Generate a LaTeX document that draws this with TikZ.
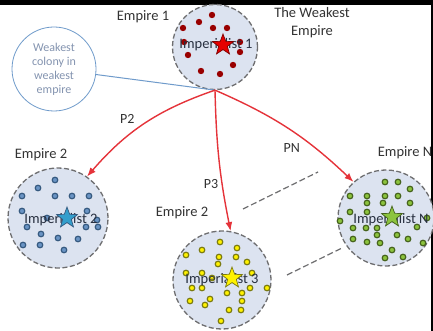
\documentclass[tikz,border=0pt]{standalone}
\usepackage{fontspec}
\setmainfont{Carlito}
\usetikzlibrary{shapes.geometric}
\usetikzlibrary{arrows.meta}

\definecolor{empfill}{HTML}{DCE3F0}
\definecolor{empdraw}{HTML}{6E6E70}
\definecolor{arrowred}{HTML}{E5333A}
\definecolor{labelgray}{HTML}{333333}
\definecolor{imptext}{HTML}{283040}
\definecolor{weakblue}{HTML}{6F9BCB}
\definecolor{weaktext}{HTML}{8494B0}
\definecolor{bluering}{HTML}{35597F}
\definecolor{bluedot}{HTML}{6A94C4}
\definecolor{greenring}{HTML}{45621C}
\definecolor{greendot}{HTML}{8CC43E}
\definecolor{yellowring}{HTML}{7A7A10}

\tikzset{
  empire/.style={circle, draw=empdraw, dash pattern=on 5pt off 2.5pt, line width=1.3pt,
    fill=empfill, inner sep=0pt},
  emplabel/.style={text=labelgray, font=\fontsize{14.5}{18}\selectfont, align=center},
  imptag/.style={text=imptext, font=\fontsize{14.5}{15}\selectfont},
  leader/.style={star, star points=5, star point ratio=2.4, minimum size=22pt,
    inner sep=0pt, line width=0.7pt},
  colony/.style={line width=1.2pt},
  plabel/.style={text=labelgray, font=\fontsize{14}{15}\selectfont},
  move/.style={-{Latex[length=9pt,width=7pt]}, arrowred, line width=1.4pt},
}

\begin{document}
\begin{tikzpicture}[x=1pt, y=1pt]
  \useasboundingbox (0,0) rectangle (433,-331);
  \fill[white] (0,0) rectangle (433,-331);
  \fill[black] (0,0) rectangle (433,-5);
  \fill[black] (431,0) rectangle (433,-331);

  % the four empires
  \node[empire, minimum size=85pt] (e1) at (215,-47) {};
  \node[empire, minimum size=100pt] (e2) at (58,-218) {};
  \node[empire, minimum size=98pt] (e3) at (222,-280) {};
  \node[empire, minimum size=96pt] (eN) at (386,-218) {};

  % colonies
  \foreach \p in {(212,-15),(199,-22),(213,-28),(227,-28),(183,-28),(184,-42),
      (240,-42),(188,-55),(240,-52),(233,-65),(201,-71),(220,-74)}
    \fill[red!60!black] \p circle (3.2);
  \foreach \p in {(55,-180),(38,-188),(22,-196),(55,-196),(72,-196),(89,-196),
      (22,-211),(87,-211),(47,-218),(97,-220),(27,-227),(86,-227),(98,-227),
      (41,-234),(58,-238),(78,-239),(23,-245),(40,-245),(64,-250)}
    \filldraw[colony, draw=bluering, fill=bluedot] \p circle (2.8);
  \foreach \p in {(220,-242),(202,-250),(237,-248),(186,-255),(219,-257),(236,-257),
      (247,-262),(218,-264),(202,-273),(186,-273),(252,-273),(212,-278),(192,-288),
      (202,-288),(250,-288),(267,-288),(227,-293),(242,-293),(190,-301),(210,-299),
      (205,-305),(242,-301),(229,-310),(241,-310),(221,-321)}
    \filldraw[colony, draw=yellowring, fill=yellow] \p circle (2.8);
  \foreach \p in {(385,-182),(398,-182),(410,-189),(350,-196),(367,-196),(385,-196),
      (398,-196),(367,-203),(383,-203),(410,-203),(350,-212),(367,-212),(340,-221),
      (427,-218),(353,-228),(366,-228),(377,-228),(417,-227),(353,-239),(377,-235),
      (397,-235),(367,-242),(380,-243),(408,-239),(423,-243),(392,-250),(403,-257),
      (385,-258)}
    \filldraw[colony, draw=greenring, fill=greendot] \p circle (2.8);

  % imperialists
  \node[imptag] (t1) at (216,-45) {Imperialist 1};
  \node[imptag] (t2) at (61,-220) {Imperialist 2};
  \node[imptag] (t3) at (222,-280) {Imperialist 3};
  \node[imptag] (tN) at (391,-220) {Imperialist N};
  \node[leader, draw=red!50!black, fill=red!90!black] (s1) at (223,-45) {};
  \node[leader, draw=bluering, fill=blue!30!cyan!60!gray] (s2) at (67,-218) {};
  \node[leader, draw=yellowring, fill=yellow] (s3) at (232,-278) {};
  \node[leader, draw=greenring, fill=greendot] (sN) at (392,-217) {};

  % labels
  \node[emplabel] (l1) at (143,-17) {Empire 1};
  \node[emplabel] (lw) at (312,-23) {The Weakest\\Empire};
  \node[emplabel] (l2) at (41,-155) {Empire 2};
  \node[emplabel] (l3) at (182,-213) {Empire 2};
  \node[emplabel] (lN) at (405,-153) {Empire N};

  % weakest colony
  \node[circle, draw=weakblue, line width=0.8pt, minimum size=84pt, inner sep=0pt,
    text=weaktext, align=center, font=\fontsize{12}{14}\selectfont] (wc) at (54,-69)
    {Weakest\\colony in\\weakest\\empire};
  \draw[weakblue, line width=1pt] (wc) -- (e1.south);

  % moves
  \draw[move] (e1.south) to[bend right=15]
    node[plabel, pos=0.55, above left] {P2} (e2.55);
  \draw[move] (e1.south) to[bend right=5]
    node[plabel, pos=0.68, left] {P3} (e3.80);
  \draw[move] (e1.south) to[bend left=10]
    node[plabel, pos=0.62, below left] {PN} (eN.132);

  \coordinate (d1) at (243,-209);
  \coordinate (d2) at (318,-172);
  \coordinate (d3) at (287,-275);
  \coordinate (d4) at (342,-248);
  \draw[empdraw, line width=1.2pt, dash pattern=on 6pt off 3pt] (d1) -- (d2);
  \draw[empdraw, line width=1.2pt, dash pattern=on 6pt off 3pt] (d3) -- (d4);
\end{tikzpicture}
\end{document}
